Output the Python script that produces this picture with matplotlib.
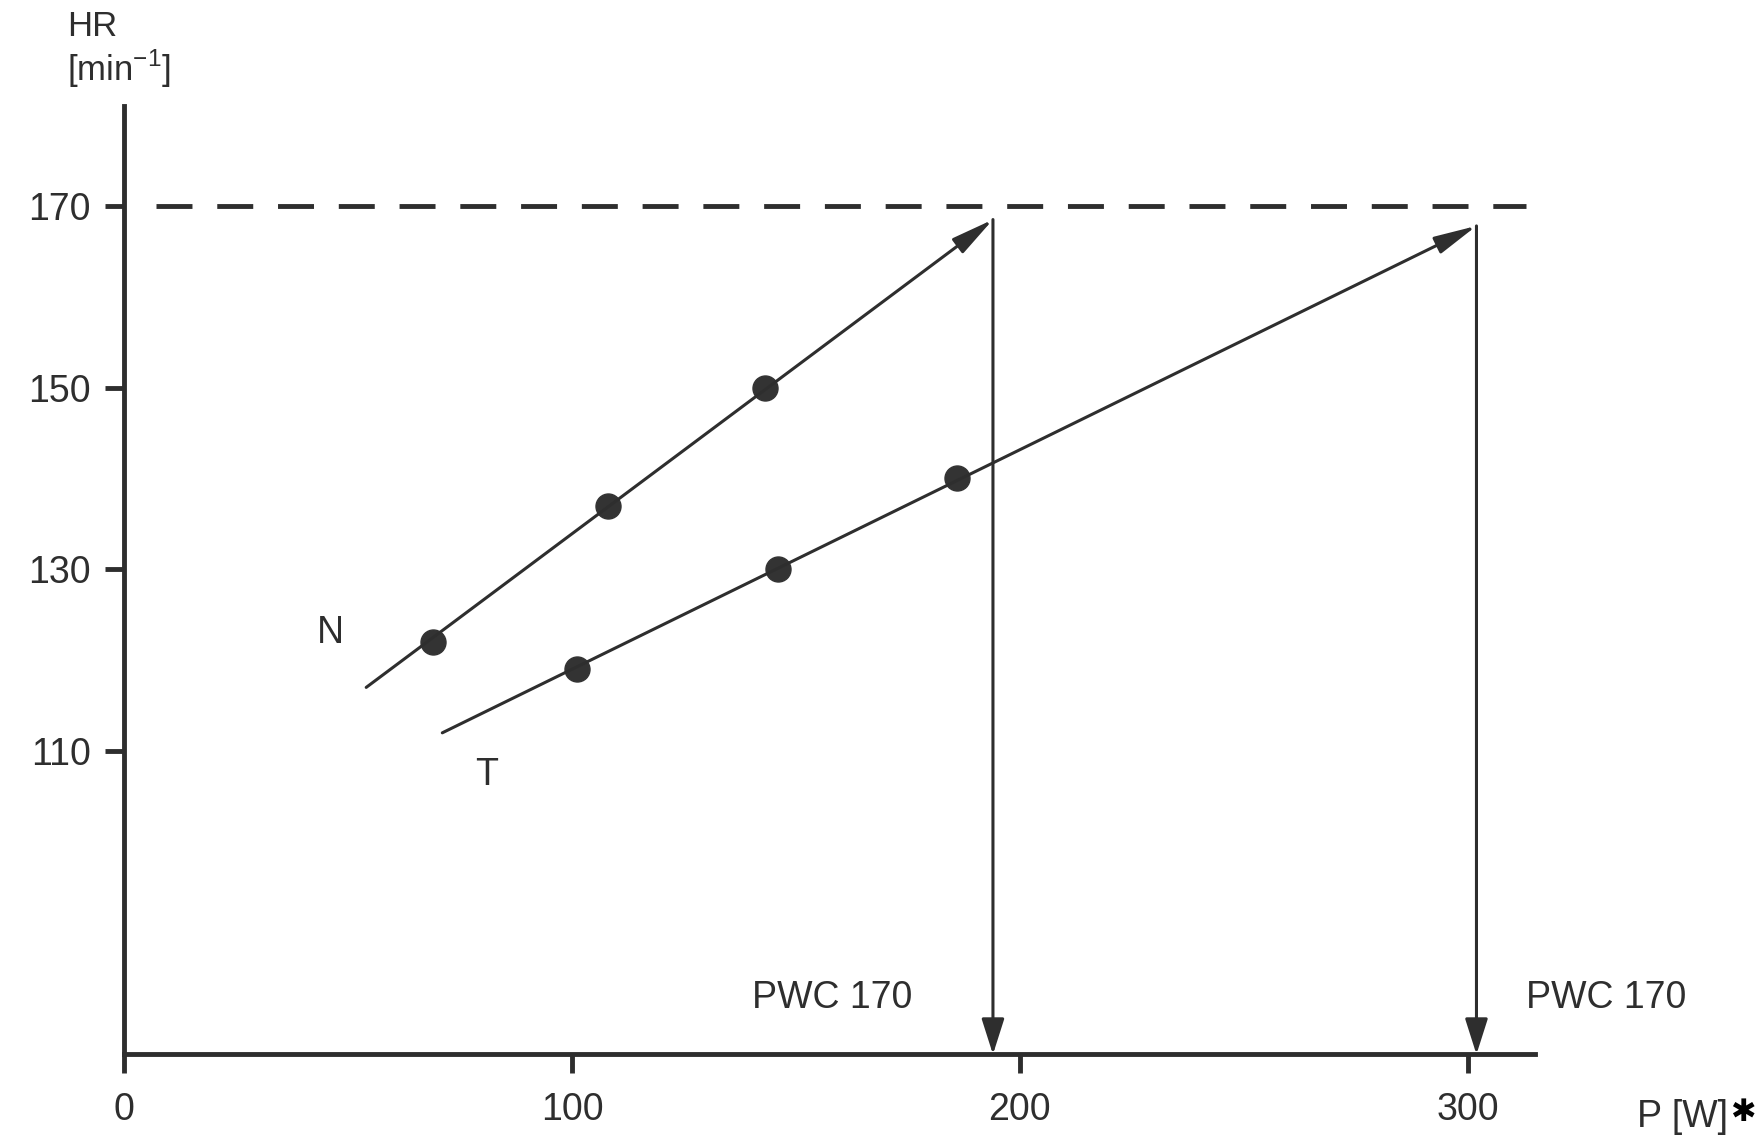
import matplotlib
matplotlib.use("Agg")
import matplotlib.pyplot as plt

# ====== data ======
n_watts = [69, 108, 143]          # N: measured points
n_hr = [122, 137, 150]
n_line_start = (54, 117)
n_pwc = 194                       # PWC 170 for N

t_watts = [101, 146, 186]         # T: measured points
t_hr = [119, 130, 140]
t_line_start = (71, 112)
t_pwc = 302                       # PWC 170 for T

hr_target = 170
x_ticks = [0, 100, 200, 300]
y_ticks = [110, 130, 150, 170]

ink = "#2e2e2e"
fs = 27
plt.rcParams["font.family"] = ["Liberation Sans", "DejaVu Sans"]
plt.rcParams["mathtext.fontset"] = "custom"
plt.rcParams["mathtext.rm"] = "Liberation Sans"

fig = plt.figure(figsize=(17.65, 11.35), dpi=100)
ax = fig.add_axes([0.0705, 0.071, 0.799, 0.8356])
ax.set_xlim(0, 315)
ax.set_ylim(76.6, 181)

# axes: only left and bottom, thick
for s in ["top", "right"]:
    ax.spines[s].set_visible(False)
for s in ["left", "bottom"]:
    ax.spines[s].set_linewidth(3.5)
    ax.spines[s].set_color(ink)

ax.set_xticks(x_ticks)
ax.set_yticks(y_ticks)
ax.tick_params(axis="both", direction="out", length=14, width=3.5, color=ink,
               labelsize=fs, labelcolor=ink)
ax.tick_params(axis="y", pad=10)
ax.tick_params(axis="x", pad=13)

# dashed 170 line
ax.plot([7, 313], [hr_target, hr_target], color=ink, lw=3.5, dashes=(7.4, 5.1))

head = "-|>,head_length=2.6,head_width=0.55"
# N line with arrow to 170
n_tip = (n_pwc, hr_target - 1.5)
ax.annotate("", xy=n_tip, xytext=n_line_start,
            arrowprops=dict(arrowstyle=head, lw=2.2, color=ink, shrinkA=0, shrinkB=0))
ax.plot(n_watts, n_hr, "o", ms=18, color="#333333")

# T line with arrow to 170
t_tip = (t_pwc, hr_target - 2.2)
ax.annotate("", xy=t_tip, xytext=t_line_start,
            arrowprops=dict(arrowstyle=head, lw=2.2, color=ink, shrinkA=0, shrinkB=0))
ax.plot(t_watts, t_hr, "o", ms=18, color="#333333")

# vertical arrows down to the P axis
vhead = "-|>,head_length=2.2,head_width=0.7"
for xp, tip in [(n_pwc, n_tip), (t_pwc, t_tip)]:
    ax.annotate("", xy=(xp, 76.6), xytext=(xp, tip[1]),
                arrowprops=dict(arrowstyle=vhead, lw=2.2, color=ink, shrinkA=0, shrinkB=0))

# labels
ax.text(46, 123, "N", fontsize=fs, color=ink, ha="center", va="center")
ax.text(81, 107.4, "T", fontsize=fs, color=ink, ha="center", va="center")
ax.text(158, 82.8, "PWC 170", fontsize=fs, color=ink, ha="center", va="center")
ax.text(331, 82.8, "PWC 170", fontsize=fs, color=ink, ha="center", va="center")
ax.text(348, 69.7, "P [W]", fontsize=fs, color=ink, ha="center", va="center")
ax.text(361.5, 70.2, "\u2731", fontsize=22, color="black", family="DejaVu Sans",
        ha="center", va="center")

fig.text(0.038, 0.977, "HR", fontsize=25, color=ink, ha="left", va="center")
fig.text(0.038, 0.939, r"[min$^{\mathregular{-1}}$]", fontsize=25, color=ink,
         ha="left", va="center")

fig.savefig("out.png", dpi=100)
